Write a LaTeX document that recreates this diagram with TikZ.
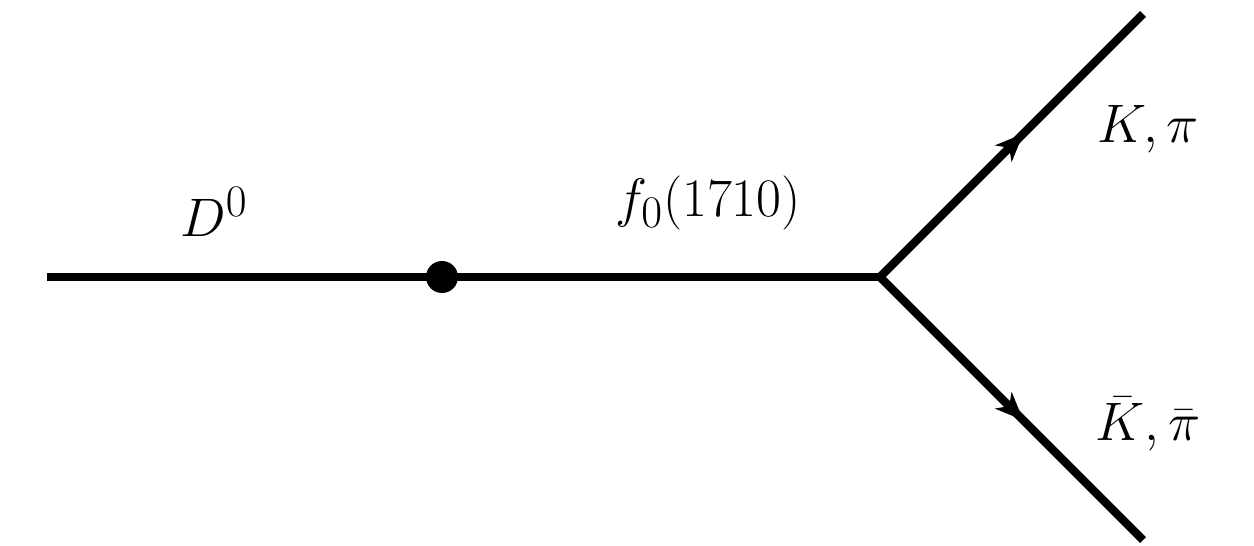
\documentclass[tikz,border=0pt]{standalone}
\usepackage{graphicx}
\usetikzlibrary{arrows.meta,decorations.markings}
\newcommand{\bigtxt}[1]{\scalebox{1.24}{$#1$}}
\begin{document}
\begin{tikzpicture}[x=0.02cm,y=-0.02cm,
  prop/.style={line width=4.8pt,line cap=butt},
  arr/.style={postaction={decorate},decoration={markings,mark=at position #1 with {\arrow{Stealth[length=5.6mm,width=4.6mm,inset=1.6mm]}}}},
  lbl/.style={font=\fontsize{24.88}{30}\selectfont,inner sep=0pt},
  blob/.style={circle,fill=black,inner sep=0pt,minimum size=0.64cm}]
\useasboundingbox (0,0) rectangle (1254,546);
\coordinate (a) at (47,277);
\coordinate (v) at (880,277);
\coordinate (u) at (1143,14);
\coordinate (l) at (1143,540);
\draw[prop] (a) -- (v);
\draw[prop,arr=0.545] (v) -- (u);
\draw[prop,arr=0.545] (v) -- (l);
\node[blob] (d) at (442,277) {};
\node[lbl] (t1) at (214,212) {\bigtxt{D^0}};
\node[lbl] (t2) at (708,203) {\bigtxt{f_0(1710)}};
\node[lbl] (t3) at (1148,129) {\bigtxt{K,\pi}};
\node[lbl] (t4) at (1148,424) {\bigtxt{\bar K,\bar\pi}};
\end{tikzpicture}
\end{document}
